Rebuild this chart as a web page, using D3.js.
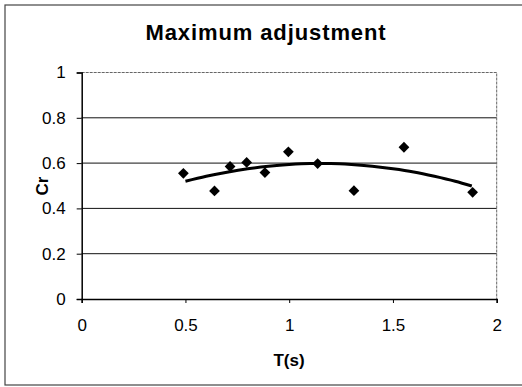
<!DOCTYPE html>
<html>
<head>
<meta charset="utf-8">
<script src="https://cdn.jsdelivr.net/npm/d3@7"></script>
<style>
  body { margin: 0; background: #fff; }
  svg { display: block; }
  text { font-family: "Liberation Sans", Arial, sans-serif; fill: #000; }
</style>
</head>
<body>
<script>
// measured points
const periods = [0.49, 0.64, 0.715, 0.795, 0.883, 0.996, 1.137, 1.312, 1.553, 1.884];
const crValues = [0.555, 0.477, 0.585, 0.603, 0.558, 0.650, 0.598, 0.478, 0.670, 0.471];

// trendline
const trendT = [0.5, 0.6, 0.7, 0.8, 0.9, 1.0, 1.1, 1.2, 1.3, 1.4, 1.5, 1.6, 1.7, 1.8, 1.88];
const trendCr = [0.52, 0.542, 0.56, 0.575, 0.586, 0.594, 0.598, 0.598, 0.594, 0.586, 0.575, 0.561, 0.542, 0.52, 0.499];

const xTicks = [0, 0.5, 1, 1.5, 2];
const yTicks = [0, 0.2, 0.4, 0.6, 0.8, 1];

const w = 522, h = 387;
const plotLeft = 81.7, plotRight = 496.7, plotTop = 72.5, plotBottom = 299;

const svg = d3.select('body').append('svg')
  .attr('width', w)
  .attr('height', h);

// outer frame
svg.append('rect')
  .attr('x', 5).attr('y', 5)
  .attr('width', 530).attr('height', 380)
  .attr('fill', 'none')
  .attr('stroke', '#444')
  .attr('stroke-width', 1.2);

const x = d3.scaleLinear().domain([0, 2]).range([plotLeft, plotRight]);
const y = d3.scaleLinear().domain([0, 1]).range([plotBottom, plotTop]);

// gridlines
svg.append('g').selectAll('line')
  .data(yTicks.filter(d => d > 0 && d < 1))
  .join('line')
  .attr('x1', plotLeft).attr('x2', plotRight)
  .attr('y1', d => y(d)).attr('y2', d => y(d))
  .attr('stroke', '#111')
  .attr('stroke-width', 1);

// plot area top/right border
svg.append('path')
  .attr('d', `M${plotLeft},${y(1)}H${plotRight}V${plotBottom}`)
  .attr('fill', 'none')
  .attr('stroke', '#666')
  .attr('stroke-width', 1)
  .attr('stroke-dasharray', '3,1');

const xAxis = d3.axisBottom(x).tickValues(xTicks).tickSize(4).tickPadding(16)
  .tickFormat(d3.format('~g'));
const yAxis = d3.axisLeft(y).tickValues(yTicks).tickSize(5).tickPadding(11)
  .tickFormat(d3.format('~g'));

const gx = svg.append('g')
  .attr('transform', 'translate(0,' + plotBottom + ')')
  .call(xAxis);
const gy = svg.append('g')
  .attr('transform', 'translate(' + plotLeft + ',0)')
  .call(yAxis);

[gx, gy].forEach(g => {
  g.select('.domain').attr('stroke', '#000').attr('stroke-width', 1.5);
  g.selectAll('.tick line').attr('stroke', '#000').attr('stroke-width', 1);
  g.selectAll('.tick text')
    .style('font-family', '"Liberation Sans", Arial, sans-serif')
    .style('font-size', '17px')
    .attr('fill', '#000');
});

// trendline
svg.append('path')
  .datum(trendT.map((t, i) => [t, trendCr[i]]))
  .attr('d', d3.line().x(d => x(d[0])).y(d => y(d[1])).curve(d3.curveMonotoneX))
  .attr('fill', 'none')
  .attr('stroke', '#000')
  .attr('stroke-width', 3);

// diamond markers
svg.append('g').selectAll('path')
  .data(periods.map((t, i) => [t, crValues[i]]))
  .join('path')
  .attr('d', d3.symbol().type(d3.symbolSquare).size(58))
  .attr('transform', d => `translate(${x(d[0])},${y(d[1])}) rotate(45)`)
  .attr('fill', '#000');

// titles
svg.append('text')
  .attr('x', 266).attr('y', 40)
  .attr('text-anchor', 'middle')
  .style('font-size', '22px')
  .style('font-weight', 'bold')
  .style('letter-spacing', '0.9px')
  .text('Maximum adjustment');

svg.append('text')
  .attr('x', 289).attr('y', 366)
  .attr('text-anchor', 'middle')
  .style('font-size', '17px')
  .style('font-weight', 'bold')
  .text('T(s)');

svg.append('text')
  .attr('transform', 'translate(48,186) rotate(-90)')
  .attr('text-anchor', 'middle')
  .style('font-size', '17px')
  .style('font-weight', 'bold')
  .text('Cr');
</script>
</body>
</html>
